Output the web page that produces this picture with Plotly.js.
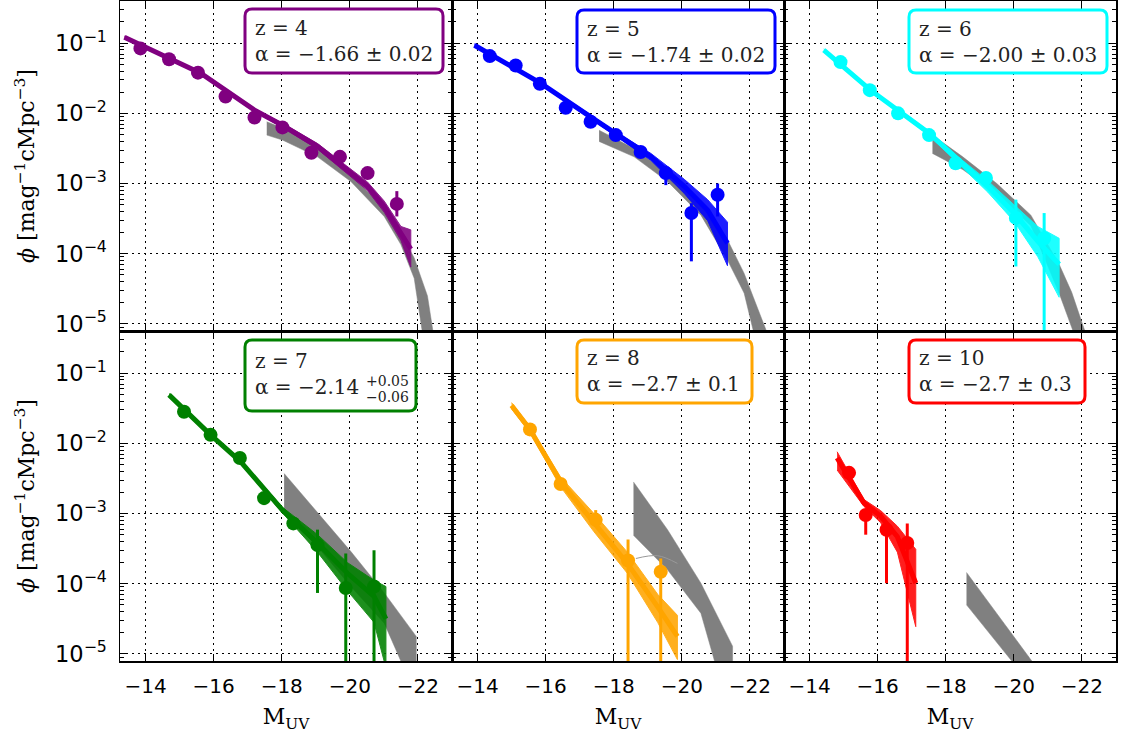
<!DOCTYPE html>
<html><head><meta charset="utf-8">
<script src="https://cdn.plot.ly/plotly-3.0.1.min.js"></script>
<style>html,body{margin:0;padding:0;background:#fff}#chart{width:1125px;height:736px}</style>
</head><body><div id="chart"></div>
<script>
// ---------------- data ----------------
const xTickVals = [-14, -16, -18, -20, -22];
const xTickText = ['−14', '−16', '−18', '−20', '−22'];
const redshiftLabels = ['z = 4', 'z = 5', 'z = 6', 'z = 7', 'z = 8', 'z = 10'];
const alphaLabels = ['α = −1.66 ± 0.02', 'α = −1.74 ± 0.02', 'α = −2.00 ± 0.03',
                     'α = −2.14', 'α = −2.7 ± 0.1', 'α = −2.7 ± 0.3'];
const alphaZ7Plus = '+0.05';
const alphaZ7Minus = '−0.06';

// z = 4
const z4PtsM   = [-13.85, -14.69, -15.54, -16.35, -17.20, -18.02, -18.87, -19.71, -20.52, -21.38];
const z4PtsPhi = [8.41e-2, 5.89e-2, 3.80e-2, 1.74e-2, 8.71e-3, 6.31e-3, 2.75e-3, 2.40e-3, 1.41e-3, 5.13e-4];
const z4ErrHi  = [8.9e-2, 6.2e-2, 4.0e-2, 1.85e-2, 9.3e-3, 6.8e-3, 3.0e-3, 2.65e-3, 1.6e-3, 7.8e-4];
const z4ErrLo  = [7.9e-2, 5.6e-2, 3.6e-2, 1.63e-2, 8.1e-3, 5.8e-3, 2.5e-3, 2.15e-3, 1.2e-3, 3.4e-4];
const z4FitM   = [-13.38, -15.62, -17.19, -18.02, -19.05, -20.03, -20.52, -21.01, -21.50, -21.79];
const z4FitPhi = [1.21e-1, 3.72e-2, 1.12e-2, 6.76e-3, 3.39e-3, 1.41e-3, 9.12e-4, 4.68e-4, 1.95e-4, 1.17e-4];
const z4FitHi  = [1.26e-1, 3.89e-2, 1.17e-2, 7.24e-3, 3.72e-3, 1.58e-3, 1.05e-3, 5.62e-4, 2.45e-4, 2.19e-4];
const z4FitLo  = [1.15e-1, 3.55e-2, 1.07e-2, 6.31e-3, 3.09e-3, 1.26e-3, 7.94e-4, 3.89e-4, 1.55e-4, 6.46e-5];
const z4GrayM  = [-17.56, -18.02, -19.05, -20.03, -21.01, -21.50, -21.89, -22.28, -22.60];
const z4GrayHi = [7.59e-3, 6.17e-3, 3.16e-3, 1.32e-3, 4.47e-4, 1.95e-4, 8.71e-5, 2.51e-5, 2.51e-6];
const z4GrayLo = [4.90e-3, 4.17e-3, 2.40e-3, 1.07e-3, 3.39e-4, 1.35e-4, 4.47e-5, 2.51e-6, 3.16e-7];

// z = 5
const z5PtsM   = [-14.36, -15.12, -15.83, -16.59, -17.32, -18.06, -18.79, -19.53, -20.28, -21.05];
const z5PtsPhi = [6.53e-2, 4.79e-2, 2.63e-2, 1.20e-2, 7.59e-3, 4.90e-3, 2.82e-3, 1.41e-3, 3.80e-4, 6.92e-4];
const z5ErrHi  = [6.9e-2, 5.1e-2, 2.8e-2, 1.28e-2, 8.1e-3, 5.3e-3, 3.1e-3, 1.6e-3, 5.25e-4, 1.0e-3];
const z5ErrLo  = [6.2e-2, 4.5e-2, 2.45e-2, 1.12e-2, 7.1e-3, 4.5e-3, 2.55e-3, 9.5e-4, 7.8e-5, 3.4e-4];
const z5FitM   = [-13.91, -15.85, -17.32, -18.11, -19.09, -20.07, -20.76, -21.34];
const z5FitPhi = [9.33e-2, 2.69e-2, 8.91e-3, 4.90e-3, 2.40e-3, 9.12e-4, 4.17e-4, 1.41e-4];
const z5FitHi  = [9.77e-2, 2.82e-2, 9.55e-3, 5.25e-3, 2.69e-3, 1.15e-3, 5.89e-4, 2.82e-4];
const z5FitLo  = [8.91e-2, 2.57e-2, 8.32e-3, 4.57e-3, 2.14e-3, 7.24e-4, 2.95e-4, 6.76e-5];
const z5GrayM  = [-17.57, -18.60, -19.58, -20.56, -21.34, -21.83, -22.10, -22.50];
const z5GrayHi = [5.75e-3, 3.16e-3, 1.41e-3, 5.25e-4, 1.58e-4, 5.25e-5, 2.40e-5, 7.59e-6];
const z5GrayLo = [3.98e-3, 2.40e-3, 1.07e-3, 3.55e-4, 8.13e-5, 2.75e-5, 8.32e-6, 1.26e-6];

// z = 6
const z6PtsM   = [-14.91, -15.77, -16.60, -17.51, -18.29, -19.18, -20.06, -20.89];
const z6PtsPhi = [5.37e-2, 2.14e-2, 1.00e-2, 4.90e-3, 1.95e-3, 1.20e-3, 3.24e-4, 1.66e-4];
const z6ErrHi  = [5.7e-2, 2.27e-2, 1.06e-2, 5.2e-3, 2.1e-3, 1.4e-3, 5.9e-4, 3.8e-4];
const z6ErrLo  = [5.1e-2, 2.02e-2, 9.4e-3, 4.6e-3, 1.8e-3, 1.0e-3, 6.6e-5, 1e-7];
const z6FitM   = [-14.42, -15.79, -17.50, -18.34, -19.23, -20.01, -20.70, -21.33];
const z6FitPhi = [7.94e-2, 2.14e-2, 5.25e-3, 2.19e-3, 9.12e-4, 3.80e-4, 1.51e-4, 7.08e-5];
const z6FitHi  = [8.32e-2, 2.24e-2, 5.62e-3, 2.45e-3, 1.10e-3, 5.01e-4, 2.45e-4, 1.66e-4];
const z6FitLo  = [7.59e-2, 2.04e-2, 4.90e-3, 1.95e-3, 7.59e-4, 2.88e-4, 9.12e-5, 2.40e-5];
const z6GrayM  = [-17.61, -18.50, -19.50, -20.50, -21.33, -21.70, -22.05, -22.40];
const z6GrayHi = [4.90e-3, 2.40e-3, 1.00e-3, 3.55e-4, 7.08e-5, 2.82e-5, 8.91e-6, 3.16e-6];
const z6GrayLo = [2.69e-3, 1.58e-3, 7.08e-4, 2.51e-4, 2.75e-5, 8.91e-6, 3.16e-6, 1.26e-6];

// z = 7
const z7PtsM   = [-15.13, -15.91, -16.77, -17.48, -18.34, -19.05, -19.88, -20.71];
const z7PtsPhi = [2.82e-2, 1.32e-2, 6.17e-3, 1.66e-3, 7.24e-4, 3.55e-4, 8.71e-5, 9.12e-5];
const z7ErrHi  = [3.0e-2, 1.4e-2, 6.6e-3, 1.8e-3, 8.0e-4, 5.9e-4, 2.7e-4, 3.0e-4];
const z7ErrLo  = [2.65e-2, 1.24e-2, 5.8e-3, 1.32e-3, 5.9e-4, 7.4e-5, 1e-7, 1e-7];
const z7FitM   = [-14.69, -15.91, -16.79, -18.02, -19.05, -19.93, -20.71, -21.06];
const z7FitPhi = [4.90e-2, 1.32e-2, 5.50e-3, 1.12e-3, 3.80e-4, 1.41e-4, 6.61e-5, 3.16e-5];
const z7FitHi  = [5.13e-2, 1.38e-2, 5.89e-3, 1.23e-3, 5.01e-4, 2.00e-4, 1.12e-4, 9.12e-5];
const z7FitLo  = [4.68e-2, 1.26e-2, 5.13e-3, 1.02e-3, 2.82e-4, 7.94e-5, 2.82e-5, 6.31e-6];
const z7GrayM  = [-18.07, -19.05, -20.03, -21.01, -21.95];
const z7GrayHi = [3.72e-3, 1.02e-3, 2.88e-4, 7.41e-5, 1.78e-5];
const z7GrayLo = [1.12e-3, 3.39e-4, 9.12e-5, 2.75e-5, 2.51e-6];

// z = 8
const z8PtsM   = [-15.54, -16.44, -17.47, -18.42, -19.38];
const z8PtsPhi = [1.58e-2, 2.63e-3, 8.13e-4, 2.14e-4, 1.48e-4];
const z8ErrHi  = [1.7e-2, 2.85e-3, 1.12e-3, 4.27e-4, 2.29e-4];
const z8ErrLo  = [1.47e-2, 2.4e-3, 6.5e-4, 1e-7, 1e-7];
const z8FitM   = [-15.00, -15.54, -16.44, -17.42, -18.40, -19.29, -19.87];
const z8FitPhi = [3.47e-2, 1.58e-2, 2.82e-3, 7.24e-4, 1.95e-4, 4.68e-5, 1.78e-5];
const z8FitHi  = [3.80e-2, 1.74e-2, 3.31e-3, 1.00e-3, 2.82e-4, 7.08e-5, 3.55e-5];
const z8FitLo  = [3.09e-2, 1.41e-2, 2.40e-3, 5.50e-4, 1.41e-4, 2.82e-5, 8.32e-6];
const z8GrayM  = [-18.58, -19.58, -20.56, -21.49];
const z8GrayHi = [2.82e-3, 5.89e-4, 1.02e-4, 1.29e-5];
const z8GrayLo = [4.90e-4, 1.58e-4, 3.80e-5, 1.00e-6];
const z8OutlierM   = [-18.65, -19.29, -19.87];
const z8OutlierPhi = [2.29e-4, 2.51e-4, 1.95e-4];

// z = 10
const z10PtsM   = [-15.16, -15.65, -16.26, -16.87];
const z10PtsPhi = [3.80e-3, 9.55e-4, 5.89e-4, 3.80e-4];
const z10ErrHi  = [4.1e-3, 1.05e-3, 6.6e-4, 7.24e-4];
const z10ErrLo  = [3.5e-3, 5.0e-4, 1.02e-4, 1e-7];
const z10FitM   = [-14.81, -15.60, -16.09, -16.58, -17.12];
const z10FitPhi = [6.17e-3, 1.41e-3, 9.12e-4, 4.68e-4, 1.02e-4];
const z10FitHi  = [7.59e-3, 1.58e-3, 1.10e-3, 6.61e-4, 3.09e-4];
const z10FitLo  = [4.17e-3, 1.26e-3, 7.41e-4, 2.82e-4, 2.45e-5];
const z10GrayM  = [-18.61, -19.50, -20.50, -21.50];
const z10GrayHi = [1.45e-4, 3.80e-5, 8.32e-6, 1.82e-6];
const z10GrayLo = [5.01e-5, 1.45e-5, 3.63e-6, 9.12e-7];

// ---------------- styling / layout ----------------
const panelColors = ['#800080', '#0000ff', '#00ffff', '#008000', '#ffa500', '#ff0000'];
const panels = [
  {pm: z4PtsM, pp: z4PtsPhi, eh: z4ErrHi, el: z4ErrLo, fm: z4FitM, fp: z4FitPhi, fh: z4FitHi, fl: z4FitLo, gm: z4GrayM, gh: z4GrayHi, gl: z4GrayLo},
  {pm: z5PtsM, pp: z5PtsPhi, eh: z5ErrHi, el: z5ErrLo, fm: z5FitM, fp: z5FitPhi, fh: z5FitHi, fl: z5FitLo, gm: z5GrayM, gh: z5GrayHi, gl: z5GrayLo},
  {pm: z6PtsM, pp: z6PtsPhi, eh: z6ErrHi, el: z6ErrLo, fm: z6FitM, fp: z6FitPhi, fh: z6FitHi, fl: z6FitLo, gm: z6GrayM, gh: z6GrayHi, gl: z6GrayLo},
  {pm: z7PtsM, pp: z7PtsPhi, eh: z7ErrHi, el: z7ErrLo, fm: z7FitM, fp: z7FitPhi, fh: z7FitHi, fl: z7FitLo, gm: z7GrayM, gh: z7GrayHi, gl: z7GrayLo},
  {pm: z8PtsM, pp: z8PtsPhi, eh: z8ErrHi, el: z8ErrLo, fm: z8FitM, fp: z8FitPhi, fh: z8FitHi, fl: z8FitLo, gm: z8GrayM, gh: z8GrayHi, gl: z8GrayLo},
  {pm: z10PtsM, pp: z10PtsPhi, eh: z10ErrHi, el: z10ErrLo, fm: z10FitM, fp: z10FitPhi, fh: z10FitHi, fl: z10FitLo, gm: z10GrayM, gh: z10GrayHi, gl: z10GrayLo}
];

const W = 1125, H = 736;
const M = {l: 120, r: 9, t: 1, b: 75};
const PW = W - M.l - M.r, PH = H - M.t - M.b;
const px2x = p => (p - M.l) / PW;
const px2y = p => (H - M.b - p) / PH;

function revCopy(a) { return a.slice().reverse(); }

const traces = [];
panels.forEach((p, i) => {
  const sfx = i === 0 ? '' : String(i + 1);
  const xa = 'x' + sfx, ya = 'y' + sfx;
  const c = panelColors[i];
  traces.push({
    type: 'scatter', mode: 'lines', xaxis: xa, yaxis: ya, showlegend: false, hoverinfo: 'skip',
    x: p.gm.concat(revCopy(p.gm)), y: p.gh.concat(revCopy(p.gl)),
    fill: 'toself', fillcolor: '#808080', line: {color: '#808080', width: 0.5}
  });
  if (i === 4) {
    traces.push({
      type: 'scatter', mode: 'lines', xaxis: xa, yaxis: ya, showlegend: false, hoverinfo: 'skip',
      x: z8OutlierM, y: z8OutlierPhi, line: {color: '#999999', width: 1, shape: 'spline'}
    });
  }
  traces.push({
    type: 'scatter', mode: 'lines', xaxis: xa, yaxis: ya, showlegend: false, hoverinfo: 'skip',
    x: p.fm.concat(revCopy(p.fm)), y: p.fh.concat(revCopy(p.fl)),
    fill: 'toself', fillcolor: c, opacity: 0.88, line: {color: c, width: 1}
  });
  traces.push({
    type: 'scatter', mode: 'lines', xaxis: xa, yaxis: ya, showlegend: false,
    x: p.fm, y: p.fp, line: {color: c, width: 5}
  });
  traces.push({
    type: 'scatter', mode: 'markers', xaxis: xa, yaxis: ya, showlegend: false,
    x: p.pm, y: p.pp,
    marker: {color: c, size: 14, line: {width: 0}},
    error_y: {type: 'data', symmetric: false,
      array: p.eh.map((v, k) => v - p.pp[k]),
      arrayminus: p.el.map((v, k) => p.pp[k] - v),
      color: c, thickness: 3, width: 0}
  });
});

const layout = {
  width: W, height: H, margin: M, paper_bgcolor: '#fff', plot_bgcolor: '#fff',
  showlegend: false, shapes: [], annotations: []
};

const xDomains = [[0, 332 / PW], [332 / PW, 664 / PW], [664 / PW, 1]];
const yDomains = [[0.5, 1], [0, 0.5]];
for (let i = 0; i < 6; i++) {
  const sfx = i === 0 ? '' : String(i + 1);
  const col = i % 3, row = Math.floor(i / 3);
  const xa = {
    domain: xDomains[col], anchor: 'y' + sfx,
    range: [-13.25, -23], tickmode: 'array', tickvals: xTickVals, ticktext: xTickText,
    showticklabels: row === 1, ticks: 'inside', ticklen: 7, tickwidth: 1, tickcolor: '#000',
    mirror: 'allticks', showline: true, linecolor: '#000', linewidth: 1.5,
    showgrid: true, gridcolor: '#000', griddash: '2px,4px', gridwidth: 1, zeroline: false,
    tickfont: {family: 'DejaVu Sans', size: 20, color: '#000'}, ticklabelstandoff: 6
  };
  if (row === 1) xa.title = {text: 'M<sub>UV</sub>', font: {family: 'DejaVu Serif', size: 22, color: '#000'}, standoff: 12};
  const yax = {
    domain: yDomains[row], anchor: 'x' + sfx, type: 'log', range: [-5.1, -0.4],
    tickmode: 'linear', tick0: 0, dtick: 1, exponentformat: 'power',
    showticklabels: col === 0, ticks: 'inside', ticklen: 8, tickwidth: 1, tickcolor: '#000',
    minor: {ticks: 'inside', ticklen: 4, tickwidth: 1, tickcolor: '#000', dtick: 'D1', showgrid: false},
    mirror: 'allticks', showline: true, linecolor: '#000', linewidth: 1.5,
    showgrid: true, gridcolor: '#000', griddash: '2px,4px', gridwidth: 1, zeroline: false,
    tickfont: {family: 'DejaVu Sans', size: 18, color: '#000'}, ticklabelstandoff: 8
  };
  if (col === 0) yax.title = {text: '<i>ϕ</i> [mag<sup>−1</sup>cMpc<sup>−3</sup>]', font: {family: 'DejaVu Serif', size: 22, color: '#000'}, standoff: 14};
  layout['xaxis' + sfx] = xa;
  layout['yaxis' + sfx] = yax;
}

// label boxes (pixel geometry)
const boxes = [
  [245, 9, 443, 73], [577, 10, 775, 73], [909, 10, 1107, 73],
  [245, 340, 416, 411], [577, 340, 752, 403], [909, 340, 1085, 403]
];
function roundRect(b, r) {
  const x0 = px2x(b[0]), x1 = px2x(b[2]), y0 = px2y(b[3]), y1 = px2y(b[1]);
  const rx = r / PW, ry = r / PH;
  return `M${x0 + rx},${y0} L${x1 - rx},${y0} Q${x1},${y0} ${x1},${y0 + ry} L${x1},${y1 - ry} Q${x1},${y1} ${x1 - rx},${y1} L${x0 + rx},${y1} Q${x0},${y1} ${x0},${y1 - ry} L${x0},${y0 + ry} Q${x0},${y0} ${x0 + rx},${y0} Z`;
}
boxes.forEach((b, i) => {
  layout.shapes.push({type: 'path', xref: 'paper', yref: 'paper', path: roundRect(b, 7),
    fillcolor: '#fff', line: {color: panelColors[i], width: 3}, layer: 'above'});
  layout.annotations.push({xref: 'paper', yref: 'paper', x: px2x(b[0] + 8), y: px2y((b[1] + b[3]) / 2 - (i === 3 ? 2 : 0)),
    xanchor: 'left', yanchor: 'middle', align: 'left', showarrow: false,
    text: redshiftLabels[i] + '<br>' + alphaLabels[i],
    font: {family: 'DejaVu Serif', size: 20, color: '#222'}});
});
layout.annotations.push({xref: 'paper', yref: 'paper', x: px2x(364), y: px2y(381), xanchor: 'left', yanchor: 'middle',
  showarrow: false, text: alphaZ7Plus, font: {family: 'DejaVu Serif', size: 14, color: '#222'}});
layout.annotations.push({xref: 'paper', yref: 'paper', x: px2x(364), y: px2y(397), xanchor: 'left', yanchor: 'middle',
  showarrow: false, text: alphaZ7Minus, font: {family: 'DejaVu Serif', size: 14, color: '#222'}});

Plotly.newPlot('chart', traces, layout, {displayModeBar: false, staticPlot: true});
</script></body></html>
